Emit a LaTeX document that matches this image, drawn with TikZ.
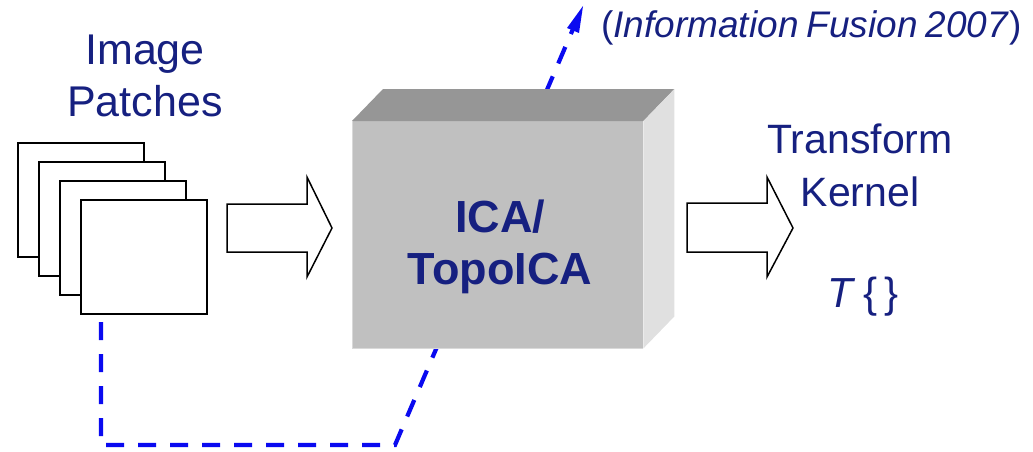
\documentclass[tikz,border=0pt]{standalone}
\usepackage{fontspec}
\setmainfont{Liberation Sans}
\usetikzlibrary{calc}
\definecolor{txtblue}{RGB}{22,32,128}
\definecolor{dashblue}{RGB}{10,10,240}
\definecolor{frontgray}{RGB}{192,192,192}
\definecolor{topgray}{RGB}{150,150,150}
\definecolor{sidegray}{RGB}{224,224,224}
\tikzset{
  patch/.style={draw=black,fill=white,line width=1.8pt,minimum width=126pt,minimum height=114pt,inner sep=0pt,anchor=north west},
  bigtxt/.style={text=txtblue,font=\fontsize{43}{50}\selectfont,anchor=base,inner sep=0pt},
  boldtxt/.style={text=txtblue,font=\fontsize{45}{50}\selectfont\bfseries,anchor=base,inner sep=0pt},
  blockarrow/.style={draw=black,fill=white,line width=1.5pt,line join=miter},
  fusion/.style={draw=dashblue,line width=4.2pt,dash pattern=on 18pt off 14pt},
}
\begin{document}
\begin{tikzpicture}[x=1pt,y=-1pt]
\useasboundingbox (0,0) rectangle (1033,452);
% dashed link (behind the box)
\coordinate (d0) at (101,322);
\coordinate (d1) at (101,445);
\coordinate (d2) at (395,445);
\coordinate (d3) at (576,22);
\coordinate (tip) at (583,6);
\draw[fusion] (d0) -- (d1) -- (d2) -- (d3);
\fill[dashblue] (tip) -- ($(d3)+(-9,6)$) -- ($(d3)+(3,11)$) -- cycle;
% patches
\node[patch] (p1) at (17,142) {};
\node[patch] (p2) at (38,161) {};
\node[patch] (p3) at (59,180) {};
\node[patch] (p4) at (80,199) {};
% labels
\node[bigtxt] (img1) at (145,64) {Image};
\node[bigtxt] (img2) at (145,116) {Patches};
% box
\node[fill=frontgray,minimum width=291pt,minimum height=227pt,inner sep=0pt,anchor=north west] (ica) at (352,121) {};
\fill[topgray] (ica.north west) -- ++(31,-32) -- ($(ica.north east)+(31,-32)$) -- (ica.north east) -- cycle;
\fill[sidegray] (ica.north east) -- ++(31,-32) -- ($(ica.south east)+(31,-32)$) -- (ica.south east) -- cycle;
\draw[white!85!black,line width=0.8pt] (ica.north west) -- (ica.south west) -- (ica.south east);
\node[boldtxt] (ica1) at (500,232) {ICA/};
\node[boldtxt] (ica2) at (500,284) {TopoICA};
% block arrows
\draw[blockarrow] (227,204) -- (307,204) -- (307,177) -- (332,228) -- (307,277) -- (307,252) -- (227,252) -- cycle;
\draw[blockarrow] (687,203) -- (767,203) -- (767,177) -- (793,228) -- (767,277) -- (767,252) -- (687,252) -- cycle;
% output labels
\node[bigtxt,font=\fontsize{41}{50}\selectfont] (tk1) at (860,153) {Transform};
\node[bigtxt,font=\fontsize{41}{50}\selectfont] (tk2) at (860,206) {Kernel};
\node[bigtxt,font=\fontsize{42}{50}\selectfont] (tt) at (863,307) {\textit{T}\,\{\,\}};
\node[text=txtblue,font=\fontsize{37}{40}\selectfont,anchor=base west,inner sep=0pt] (cite) at (601,38) {(\textit{Information\hspace{8pt}Fusion\hspace{8pt}2007})};
\end{tikzpicture}
\end{document}
